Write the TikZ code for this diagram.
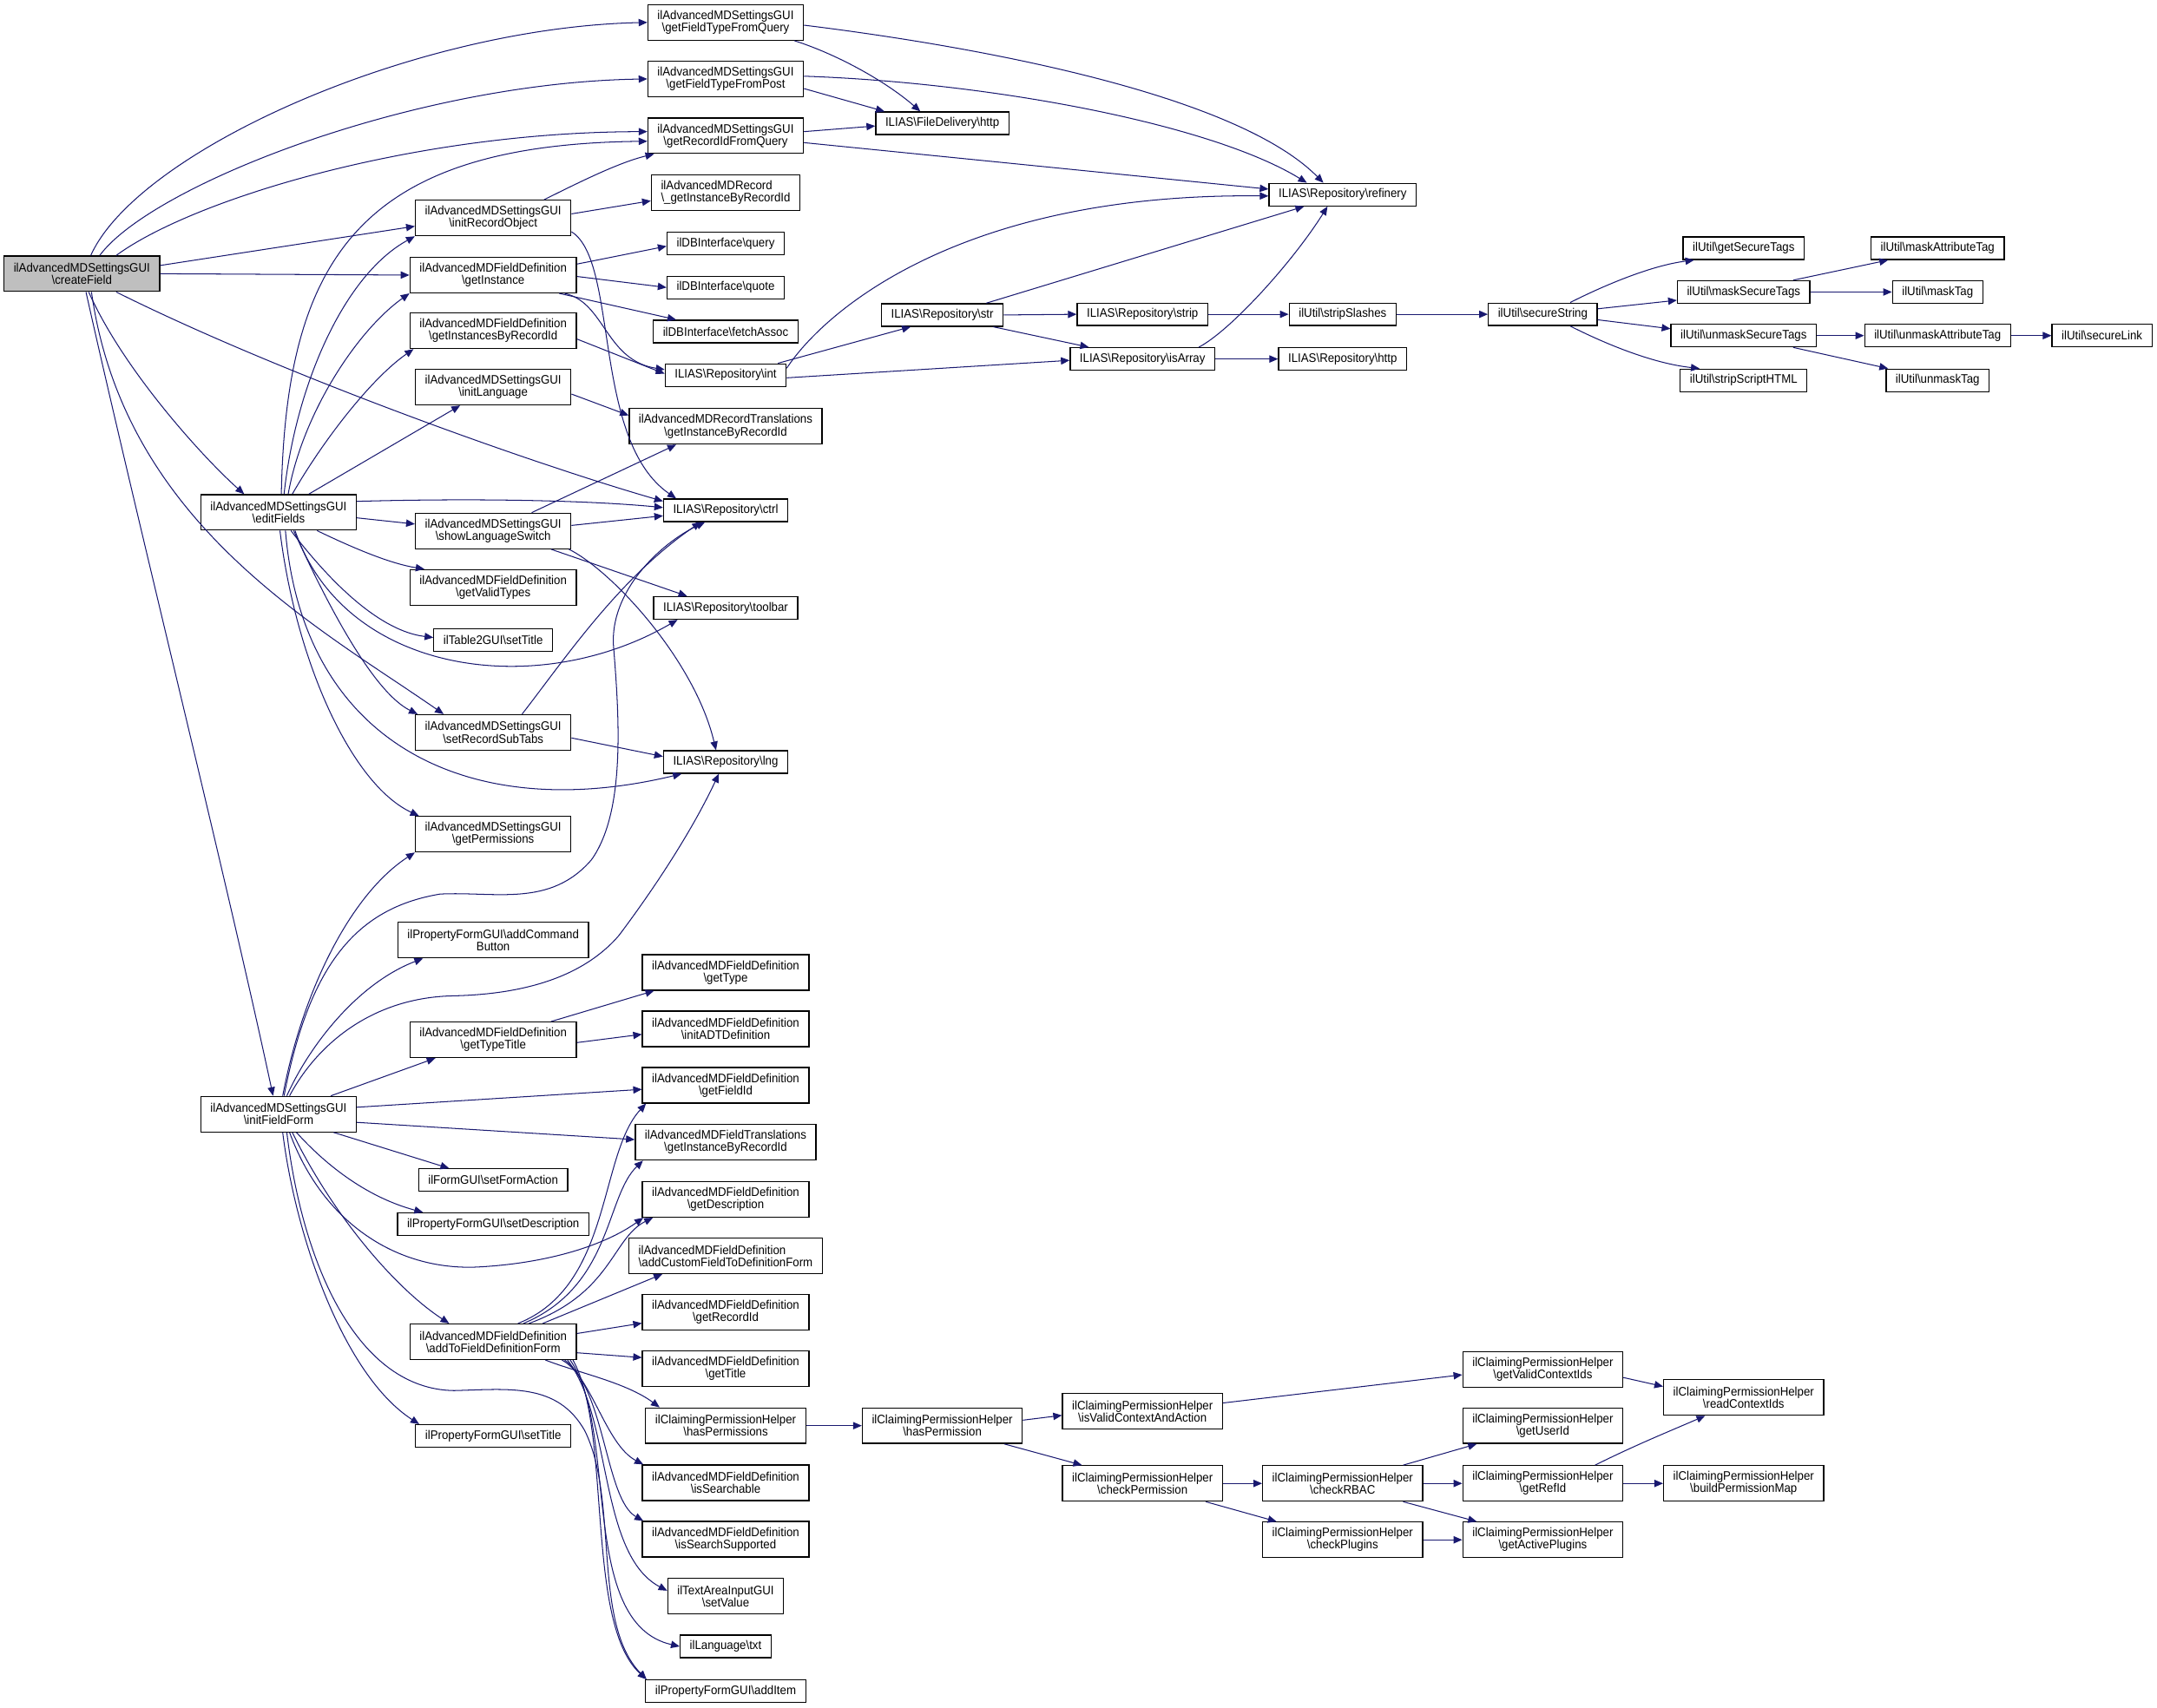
\documentclass[tikz,border=0pt]{standalone}
\usepackage{fontspec}
\setmainfont{Liberation Sans}[FakeStretch=0.93]
\usetikzlibrary{arrows.meta}
\definecolor{edgec}{RGB}{25,25,112}
\definecolor{cfgray}{RGB}{191,191,191}
\newcommand{\BSL}{\textbackslash}
\newcommand{\nodefnt}{\fontsize{9pt}{8.9pt}\selectfont}
\begin{document}
\begin{tikzpicture}[x=1pt,y=-1pt,
  box/.style={draw=black, fill=white, line width=0.8pt, inner xsep=7pt, inner ysep=0pt, align=center, font=\nodefnt, text=black},
  bone/.style={box, minimum height=16.4pt},
  btwo/.style={box, minimum height=25.8pt},
  edg/.style={draw=edgec, line width=0.65pt, -{Triangle[length=6.3pt,width=5.3pt]}}]
\useasboundingbox (0,0) rectangle (1568,1241.2);
% column 1-2
\node[btwo, fill=cfgray] (cf) at (59.5,199) {ilAdvancedMDSettingsGUI\\\BSL createField};
\node[btwo] (ef) at (202.5,372.5) {ilAdvancedMDSettingsGUI\\\BSL editFields};
\node[btwo] (iff) at (202.5,810) {ilAdvancedMDSettingsGUI\\\BSL initFieldForm};
% column 3
\node[btwo] (iro) at (358.5,158.5) {ilAdvancedMDSettingsGUI\\\BSL initRecordObject};
\node[btwo] (gi) at (358.5,200) {ilAdvancedMDFieldDefinition\\\BSL getInstance};
\node[btwo] (gibr) at (358.5,240.5) {ilAdvancedMDFieldDefinition\\\BSL getInstancesByRecordId};
\node[btwo] (il) at (358.5,281.5) {ilAdvancedMDSettingsGUI\\\BSL initLanguage};
\node[btwo] (sls) at (358.5,386) {ilAdvancedMDSettingsGUI\\\BSL showLanguageSwitch};
\node[btwo] (gvt) at (358.5,427) {ilAdvancedMDFieldDefinition\\\BSL getValidTypes};
\node[bone] (t2st) at (358.5,465.5) {ilTable2GUI\BSL setTitle};
\node[btwo] (srst) at (358.5,532.5) {ilAdvancedMDSettingsGUI\\\BSL setRecordSubTabs};
\node[btwo] (gp) at (358.5,606.5) {ilAdvancedMDSettingsGUI\\\BSL getPermissions};
\node[btwo] (acb) at (358.5,683.5) {ilPropertyFormGUI\BSL addCommand\\Button};
\node[btwo] (gtt) at (358.5,756) {ilAdvancedMDFieldDefinition\\\BSL getTypeTitle};
\node[bone] (sfa) at (358.5,858) {ilFormGUI\BSL setFormAction};
\node[bone] (sd) at (358.5,890) {ilPropertyFormGUI\BSL setDescription};
\node[btwo] (atf) at (358.5,975.5) {ilAdvancedMDFieldDefinition\\\BSL addToFieldDefinitionForm};
\node[bone] (pst) at (358.5,1044) {ilPropertyFormGUI\BSL setTitle};
% column 4
\node[btwo] (gftq) at (527.5,16.3) {ilAdvancedMDSettingsGUI\\\BSL getFieldTypeFromQuery};
\node[btwo] (gftp) at (527.5,57.4) {ilAdvancedMDSettingsGUI\\\BSL getFieldTypeFromPost};
\node[btwo] (grq) at (527.5,98.7) {ilAdvancedMDSettingsGUI\\\BSL getRecordIdFromQuery};
\node[btwo, align=left] (rgi) at (527.5,140) {ilAdvancedMDRecord\\\BSL\_getInstanceByRecordId};
\node[bone] (dbq) at (527.5,177) {ilDBInterface\BSL query};
\node[bone] (dbqt) at (527.5,209) {ilDBInterface\BSL quote};
\node[bone] (dbf) at (527.5,241) {ilDBInterface\BSL fetchAssoc};
\node[bone] (rint) at (527.5,272.7) {ILIAS\BSL Repository\BSL int};
\node[btwo] (rtr) at (527.5,310) {ilAdvancedMDRecordTranslations\\\BSL getInstanceByRecordId};
\node[bone] (ctrl) at (527.5,371) {ILIAS\BSL Repository\BSL ctrl};
\node[bone] (tb) at (527.5,442) {ILIAS\BSL Repository\BSL toolbar};
\node[bone] (lng) at (527.5,554) {ILIAS\BSL Repository\BSL lng};
\node[btwo] (gty) at (527.5,707) {ilAdvancedMDFieldDefinition\\\BSL getType};
\node[btwo] (iadt) at (527.5,748) {ilAdvancedMDFieldDefinition\\\BSL initADTDefinition};
\node[btwo] (gfi) at (527.5,789) {ilAdvancedMDFieldDefinition\\\BSL getFieldId};
\node[btwo] (ftr) at (527.5,830.5) {ilAdvancedMDFieldTranslations\\\BSL getInstanceByRecordId};
\node[btwo] (gd) at (527.5,872) {ilAdvancedMDFieldDefinition\\\BSL getDescription};
\node[btwo, align=left] (acf) at (527.5,913) {ilAdvancedMDFieldDefinition\\\BSL addCustomFieldToDefinitionForm};
\node[btwo] (grid) at (527.5,954) {ilAdvancedMDFieldDefinition\\\BSL getRecordId};
\node[btwo] (gtl) at (527.5,995) {ilAdvancedMDFieldDefinition\\\BSL getTitle};
\node[btwo] (hps) at (527.5,1036.5) {ilClaimingPermissionHelper\\\BSL hasPermissions};
\node[btwo] (iss) at (527.5,1078) {ilAdvancedMDFieldDefinition\\\BSL isSearchable};
\node[btwo] (isup) at (527.5,1119) {ilAdvancedMDFieldDefinition\\\BSL isSearchSupported};
\node[btwo] (tav) at (527.5,1160.5) {ilTextAreaInputGUI\\\BSL setValue};
\node[bone] (ltxt) at (527.5,1197) {ilLanguage\BSL txt};
\node[bone] (pai) at (527.5,1229.5) {ilPropertyFormGUI\BSL addItem};
% column 5
\node[bone] (fdh) at (685,89.6) {ILIAS\BSL FileDelivery\BSL http};
\node[bone] (rstr) at (685,229) {ILIAS\BSL Repository\BSL str};
\node[btwo] (hp) at (685,1036.5) {ilClaimingPermissionHelper\\\BSL hasPermission};
% column 6
\node[bone] (rstrip) at (830.5,228.5) {ILIAS\BSL Repository\BSL strip};
\node[bone] (risa) at (830.5,261) {ILIAS\BSL Repository\BSL isArray};
\node[btwo] (ivc) at (830.5,1026) {ilClaimingPermissionHelper\\\BSL isValidContextAndAction};
\node[btwo] (cp) at (830.5,1078.5) {ilClaimingPermissionHelper\\\BSL checkPermission};
% column 7
\node[bone] (ref) at (976,141.5) {ILIAS\BSL Repository\BSL refinery};
\node[bone] (ss) at (976,228.5) {ilUtil\BSL stripSlashes};
\node[bone] (rhttp) at (976,261) {ILIAS\BSL Repository\BSL http};
\node[btwo] (rbac) at (976,1078.5) {ilClaimingPermissionHelper\\\BSL checkRBAC};
\node[btwo] (cpl) at (976,1119.5) {ilClaimingPermissionHelper\\\BSL checkPlugins};
% column 8
\node[bone] (sec) at (1121.5,228.5) {ilUtil\BSL secureString};
\node[btwo] (gvc) at (1121.5,995.5) {ilClaimingPermissionHelper\\\BSL getValidContextIds};
\node[btwo] (gui) at (1121.5,1036.5) {ilClaimingPermissionHelper\\\BSL getUserId};
\node[btwo] (gri) at (1121.5,1078.5) {ilClaimingPermissionHelper\\\BSL getRefId};
\node[btwo] (gap) at (1121.5,1119.5) {ilClaimingPermissionHelper\\\BSL getActivePlugins};
% column 9
\node[bone] (gst) at (1267.5,180.5) {ilUtil\BSL getSecureTags};
\node[bone] (mst) at (1267.5,212.3) {ilUtil\BSL maskSecureTags};
\node[bone] (ust) at (1267.5,244) {ilUtil\BSL unmaskSecureTags};
\node[bone] (ssh) at (1267.5,276.5) {ilUtil\BSL stripScriptHTML};
\node[btwo] (rci) at (1267.5,1016) {ilClaimingPermissionHelper\\\BSL readContextIds};
\node[btwo] (bpm) at (1267.5,1078.5) {ilClaimingPermissionHelper\\\BSL buildPermissionMap};
% column 10-11
\node[bone] (mat) at (1408.5,180.5) {ilUtil\BSL maskAttributeTag};
\node[bone] (mt) at (1408.5,212.3) {ilUtil\BSL maskTag};
\node[bone] (uat) at (1408.5,244) {ilUtil\BSL unmaskAttributeTag};
\node[bone] (ut) at (1408.5,276.5) {ilUtil\BSL unmaskTag};
\node[bone] (sl) at (1528,244) {ilUtil\BSL secureLink};

% ---- edges from createField
\draw[edg] ([xshift=6.5pt]cf.north) .. controls (100,110) and (300,20) .. (gftq.west);
\draw[edg] ([xshift=13pt]cf.north) .. controls (110,135) and (300,60) .. (gftp.west);
\draw[edg] ([xshift=25pt]cf.north) .. controls (140,145) and (300,96) .. ([yshift=3pt]grq.west);
\draw[edg] ([yshift=6pt]cf.east) -- ([yshift=-6pt]iro.west);
\draw[edg] (cf.east) -- (gi.west);
\draw[edg] ([xshift=5pt]cf.south) .. controls (90,270) and (150,335) .. ([xshift=-25pt]ef.north);
\draw[edg] ([xshift=3pt]cf.south) .. controls (100,380) and (165,640) .. ([xshift=-4pt]iff.north);
\draw[edg] ([xshift=7pt]cf.south) .. controls (90,380) and (230,455) .. ([xshift=-36pt]srst.north);
\draw[edg] ([xshift=25pt]cf.south) .. controls (200,270) and (380,335) .. ([yshift=-2pt]ctrl.north west);
% ---- edges from editFields
\draw[edg] ([xshift=2pt]ef.north) .. controls (208,190) and (260,105) .. ([yshift=-4pt]grq.west);
\draw[edg] ([xshift=4pt]ef.north) .. controls (215,280) and (250,200) .. (iro.south west);
\draw[edg] ([xshift=7pt]ef.north) .. controls (220,300) and (260,240) .. (gi.south west);
\draw[edg] ([xshift=10pt]ef.north) .. controls (235,320) and (270,275) .. ([xshift=3pt]gibr.south west);
\draw[edg] ([xshift=22pt]ef.north) -- ([xshift=-24pt]il.south);
\draw[edg] ([yshift=8pt]ef.east) .. controls (350,362) and (430,364) .. ([yshift=2pt]ctrl.west);
\draw[edg] ([yshift=-4pt]ef.east) -- ([yshift=5pt]sls.west);
\draw[edg] ([xshift=28pt]ef.south) .. controls (260,400) and (285,410) .. ([xshift=-50pt]gvt.north);
\draw[edg] ([xshift=9pt]ef.south) .. controls (230,410) and (270,458) .. ([yshift=2pt]t2st.west);
\draw[edg] ([xshift=12pt]ef.south) .. controls (250,490) and (390,510) .. ([xshift=-35pt]tb.south);
\draw[edg] ([xshift=11pt]ef.south) .. controls (245,455) and (275,505) .. ([xshift=2pt]srst.north west);
\draw[edg] ([xshift=5pt]ef.south) .. controls (220,540) and (340,600) .. ([xshift=-32pt]lng.south);
\draw[edg] ([xshift=1pt]ef.south) .. controls (215,480) and (255,570) .. ([xshift=3pt]gp.north west);
% ---- column 3 upper
\draw[edg] ([xshift=37pt]iro.north) .. controls (420,133) and (450,118) .. ([xshift=-52pt]grq.south);
\draw[edg] ([yshift=3pt]iro.east) -- ([yshift=-6pt]rgi.west);
\draw[edg] ([yshift=-10pt]iro.east) .. controls (450,190) and (430,320) .. ([xshift=-36pt]ctrl.north);
\draw[edg] ([yshift=8pt]gi.east) -- ([yshift=-2pt]dbq.west);
\draw[edg] ([yshift=-1pt]gi.east) -- (dbqt.west);
\draw[edg] ([xshift=48pt]gi.south) -- ([xshift=-36pt]dbf.north);
\draw[edg] ([xshift=52pt]gi.south) .. controls (440,220) and (440,262) .. ([yshift=4pt]rint.west);
\draw[edg] ([yshift=-6pt]gibr.east) -- ([yshift=1pt]rint.west);
\draw[edg] ([yshift=-5pt]il.east) -- ([yshift=8pt]rtr.west);
\draw[edg] ([xshift=28pt]sls.north) -- ([xshift=-36pt]rtr.south);
\draw[edg] ([yshift=4pt]sls.east) -- ([yshift=-4pt]ctrl.west);
\draw[edg] ([xshift=42pt]sls.south) -- ([xshift=-28pt]tb.north);
\draw[edg] ([xshift=55pt]sls.south) .. controls (445,415) and (505,480) .. ([xshift=-7pt]lng.north);
\draw[edg] ([xshift=21pt]srst.north) .. controls (410,480) and (450,420) .. ([xshift=-18pt]ctrl.south);
\draw[edg] ([yshift=-4pt]srst.east) -- ([yshift=4pt]lng.west);
% ---- column 4 top
\draw[edg] ([xshift=50pt]gftq.south) .. controls (610,40) and (645,60) .. ([xshift=-16pt]fdh.north);
\draw[edg] ([yshift=-2pt]gftq.east) .. controls (720,35) and (900,70) .. ([xshift=-14pt]ref.north);
\draw[edg] ([yshift=-7pt]gftp.east) -- ([xshift=-42pt]fdh.north);
\draw[edg] ([yshift=2pt]gftp.east) .. controls (720,60) and (880,90) .. ([xshift=-26pt]ref.north);
\draw[edg] ([yshift=3pt]grq.east) -- ([yshift=-2pt]fdh.west);
\draw[edg] ([yshift=-5pt]grq.east) -- ([yshift=4pt]ref.west);
\draw[edg] ([xshift=38pt]rint.north) -- ([xshift=-23pt]rstr.south);
\draw[edg] ([yshift=5pt]rint.east) .. controls (600,225) and (700,140) .. ([yshift=-1pt]ref.west);
\draw[edg] ([yshift=-2pt]rint.east) -- ([yshift=-1pt]risa.west);
\draw[edg] ([xshift=32pt]rstr.north) -- ([xshift=-28pt]ref.south);
\draw[edg] (rstr.east) -- (rstrip.west);
\draw[edg] ([xshift=37pt]rstr.south) -- ([xshift=-39pt]risa.north);
\draw[edg] (rstrip.east) -- (ss.west);
\draw[edg] (ss.east) -- (sec.west);
\draw[edg] ([xshift=41pt]risa.north) .. controls (895,240) and (940,190) .. ([xshift=-11pt]ref.south);
\draw[edg] (risa.east) -- (rhttp.west);
% ---- ilUtil
\draw[edg] ([xshift=20pt]sec.north) .. controls (1165,208) and (1200,193) .. ([xshift=-36pt]gst.south);
\draw[edg] ([yshift=4pt]sec.east) -- ([yshift=-6pt]mst.west);
\draw[edg] ([yshift=-4pt]sec.east) -- ([yshift=5pt]ust.west);
\draw[edg] ([xshift=20pt]sec.south) .. controls (1165,249) and (1200,264) .. ([xshift=-32pt]ssh.north);
\draw[edg] ([xshift=36pt]mst.north) -- ([xshift=-36pt]mat.south);
\draw[edg] (mst.east) -- (mt.west);
\draw[edg] (ust.east) -- (uat.west);
\draw[edg] ([xshift=36pt]ust.south) -- ([xshift=-36pt]ut.north);
\draw[edg] (uat.east) -- (sl.west);
% ---- claiming permission
\draw[edg] (hps.east) -- (hp.west);
\draw[edg] ([yshift=4pt]hp.east) -- ([yshift=-3pt]ivc.west);
\draw[edg] ([xshift=45pt]hp.south) -- ([xshift=-44pt]cp.north);
\draw[edg] ([yshift=6pt]ivc.east) -- ([yshift=-4pt]gvc.west);
\draw[edg] ([yshift=-6pt]gvc.east) -- ([yshift=8pt]rci.west);
\draw[edg] (cp.east) -- (rbac.west);
\draw[edg] ([xshift=46pt]cp.south) -- ([xshift=-48pt]cpl.north);
\draw[edg] ([xshift=44pt]rbac.north) -- ([xshift=-48pt]gui.south);
\draw[edg] (rbac.east) -- (gri.west);
\draw[edg] ([xshift=44pt]rbac.south) -- ([xshift=-48pt]gap.north);
\draw[edg] ([xshift=38pt]gri.north) .. controls (1190,1050) and (1215,1040) .. ([xshift=-28pt]rci.south);
\draw[edg] (gri.east) -- (bpm.west);
\draw[edg] (cpl.east) -- (gap.west);
% ---- getTypeTitle
\draw[edg] ([xshift=42pt]gtt.north) -- ([xshift=-52pt]gty.south);
\draw[edg] ([yshift=-2pt]gtt.east) -- ([yshift=-4pt]iadt.west);
% ---- initFieldForm
\draw[edg] ([xshift=3pt]iff.north) .. controls (220,720) and (255,650) .. (gp.south west);
\draw[edg] ([xshift=6pt]iff.north) .. controls (225,760) and (260,715) .. ([xshift=-51pt]acb.south);
\draw[edg] ([xshift=38pt]iff.north) -- ([xshift=-42pt]gtt.south);
\draw[edg] ([xshift=4pt]iff.north) .. controls (225,700) and (260,660) .. (320,650) .. controls (360,648) and (400,660) .. (430,625) .. controls (455,590) and (450,520) .. (446,470) .. controls (443,430) and (480,395) .. ([xshift=-15pt]ctrl.south);
\draw[edg] ([xshift=8pt]iff.north) .. controls (230,760) and (270,725) .. (330,724) .. controls (370,723) and (420,715) .. (450,680) .. controls (480,640) and (505,600) .. ([xshift=-5pt]lng.south);
\draw[edg] ([yshift=5pt]iff.east) -- ([yshift=-3pt]gfi.west);
\draw[edg] ([yshift=-6pt]iff.east) -- ([yshift=2pt]ftr.west);
\draw[edg] ([xshift=40pt]iff.south) -- ([xshift=-32pt]sfa.north);
\draw[edg] ([xshift=13pt]iff.south) .. controls (235,845) and (265,870) .. ([xshift=-51pt]sd.north);
\draw[edg] ([xshift=8pt]iff.south) .. controls (235,890) and (290,925) .. (350,921) .. controls (400,918) and (440,905) .. ([xshift=1pt]gd.south west);
\draw[edg] ([xshift=10pt]iff.south) .. controls (240,880) and (285,935) .. ([xshift=-32pt]atf.north);
\draw[edg] ([xshift=3pt]iff.south) .. controls (215,900) and (250,1000) .. ([xshift=3pt]pst.north west);
\draw[edg] ([xshift=6pt]iff.south) .. controls (220,920) and (260,1010) .. (330,1011) .. controls (370,1010) and (405,1005) .. (425,1040) .. controls (450,1090) and (430,1180) .. ([xshift=1pt]pai.north west);
% ---- addToFieldDefinitionForm
\draw[edg] ([xshift=18pt]atf.north) .. controls (445,935) and (435,840) .. ([xshift=3pt]gfi.south west);
\draw[edg] ([xshift=22pt]atf.north) .. controls (445,935) and (440,870) .. ([xshift=6pt]ftr.south west);
\draw[edg] ([xshift=26pt]atf.north) .. controls (445,940) and (445,900) .. ([xshift=8pt]gd.south west);
\draw[edg] ([xshift=36pt]atf.north) -- ([xshift=-46pt]acf.south);
\draw[edg] ([yshift=6pt]atf.east) -- ([yshift=-8pt]grid.west);
\draw[edg] ([yshift=-8pt]atf.east) -- ([yshift=8pt]gtl.west);
\draw[edg] ([xshift=38pt]atf.south) .. controls (420,998) and (455,1005) .. ([xshift=-48pt]hps.north);
\draw[edg] ([xshift=50pt]atf.south) .. controls (430,1000) and (440,1050) .. ([xshift=1pt]iss.north west);
\draw[edg] ([xshift=52pt]atf.south) .. controls (440,1010) and (440,1090) .. ([xshift=1pt]isup.north west);
\draw[edg] ([xshift=54pt]atf.south) .. controls (445,1030) and (435,1130) .. ([yshift=4pt]tav.west);
\draw[edg] ([xshift=56pt]atf.south) .. controls (450,1040) and (420,1180) .. (ltxt.west);
\draw[edg] ([xshift=58pt]atf.south) .. controls (445,1040) and (425,1180) .. ([xshift=1pt]pai.north west);
\end{tikzpicture}
\end{document}
